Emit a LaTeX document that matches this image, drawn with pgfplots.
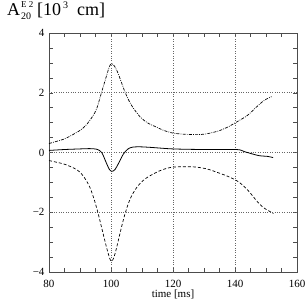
\documentclass[border=0pt]{standalone}
\usepackage{fontspec}
\setmainfont{Liberation Serif}
\usepackage{pgfplots}
\pgfplotsset{compat=1.18}
\begin{document}
\begin{tikzpicture}[x=1pt,y=1pt]
\path[use as bounding box] (0,0) rectangle (305,305);
\begin{axis}[
  at={(49pt,33pt)}, anchor=south west,
  scale only axis, width=248pt, height=239pt,
  xmin=80, xmax=160, ymin=-4, ymax=4,
  xtick={80,100,120,140,160}, ytick={-4,-2,0,2,4},
  yticklabels={−4,−2,0,2,4},
  minor xtick={85,90,95,105,110,115,125,130,135,145,150,155},
  minor ytick={-3.5,-3,-2.5,-1.5,-1,-0.5,0.5,1,1.5,2.5,3,3.5},
  tick align=inside, major tick length=4pt, minor tick length=4pt,
  xtick pos=both, ytick pos=both,
  tick style={black!70, line width=0.5pt},
  axis line style={black!70, line width=0.6pt},
  extra x ticks={100,120,140}, extra x tick labels={},
  extra x tick style={grid=major, major grid style={black!60, dotted, line width=0.6pt}, major tick length=0pt},
  extra y ticks={-2,0,2}, extra y tick labels={},
  extra y tick style={grid=major, major grid style={black!60, dotted, line width=0.6pt}, major tick length=0pt},
  /pgf/number format/assume math mode=true,
  ticklabel style={font=\fontsize{11}{12}\selectfont},
  xticklabel style={anchor=base, yshift=-16pt, inner sep=0pt},
  yticklabel style={xshift=-1pt},
  xlabel={time [ms]}, xlabel style={font=\fontsize{11}{12}\selectfont, at={(axis description cs:0.5,0)}, anchor=base, yshift=-26pt, inner sep=0pt},
  clip=false,
]
% dash-dot upper curve
\addplot[black, line width=0.7pt, dash pattern=on 3pt off 1.2pt on 0.8pt off 1.2pt, smooth, tension=0.5] coordinates {
(80,0.30) (82,0.36) (84.6,0.44) (87,0.56) (90,0.74) (92,0.92) (94,1.20) (95.4,1.47) (97,2.03) (98.5,2.55) (99.5,2.88) (100.2,2.97) (101.2,2.88) (102.4,2.62) (104.5,2.03) (106.5,1.60) (109.4,1.19) (112,0.98) (114.7,0.85) (117,0.74) (120,0.65) (124,0.61) (128.7,0.60) (132,0.65) (135.2,0.74) (138,0.87) (140.5,1.02) (144,1.24) (147,1.53) (149.5,1.75) (151.8,1.87) };
% solid
\addplot[black, line width=0.8pt, smooth, tension=0.5] coordinates {
(80,0.07) (85,0.10) (90,0.12) (93,0.13) (95.4,0.11) (97,0.0) (98.5,-0.35) (99.5,-0.57) (100.3,-0.63) (101.3,-0.57) (102.5,-0.35) (104,-0.05) (105.5,0.12) (107,0.18) (109.4,0.19) (113,0.17) (120,0.12) (130,0.10) (140.5,0.10) (143,0.03) (146,-0.06) (148,-0.11) (150.5,-0.13) (152.3,-0.17) };
% dashed
\addplot[black, line width=0.7pt, dash pattern=on 3pt off 2pt, smooth, tension=0.5] coordinates {
(80,-0.27) (84.6,-0.38) (88,-0.52) (90,-0.66) (91.8,-0.90) (93.2,-1.17) (94.6,-1.58) (95.9,-2.06) (97.3,-2.65) (98.6,-3.19) (99.6,-3.55) (100.2,-3.64) (100.9,-3.52) (101.8,-3.19) (103.1,-2.62) (104.5,-2.06) (106.2,-1.55) (108.3,-1.17) (110.8,-0.90) (113.6,-0.72) (116.5,-0.58) (120,-0.49) (126.5,-0.48) (131,-0.55) (134.1,-0.66) (137.5,-0.79) (140.5,-0.94) (142.8,-1.12) (144.8,-1.34) (147,-1.62) (149.1,-1.84) (151,-1.96) (152.4,-2.04) };
\end{axis}
\node[anchor=base west, inner sep=0pt, font=\fontsize{18}{19}\selectfont] at (7,289) {A\hspace{1pt}\rlap{\raisebox{8pt}{\fontsize{9}{10}\selectfont E 2}}\raisebox{-4pt}{\fontsize{10}{10}\selectfont 20}\hspace{6pt}[10\raisebox{7.5pt}{\fontsize{10}{10}\selectfont\hspace{2pt}3}\hspace{9pt}cm]};
\end{tikzpicture}
\end{document}
